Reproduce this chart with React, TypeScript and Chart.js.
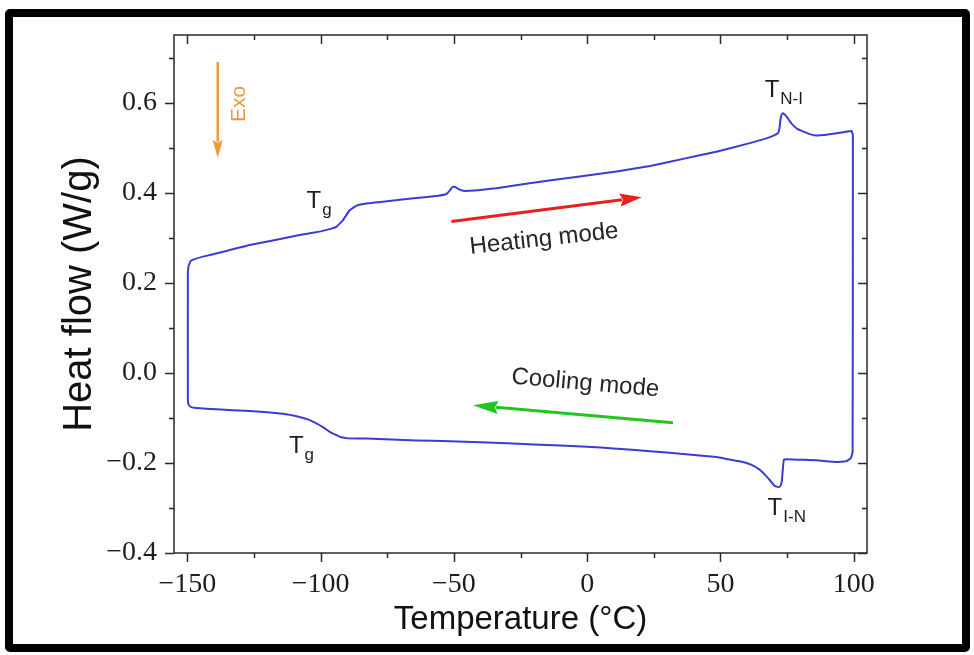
import React, { useEffect, useRef } from 'react';
import { Chart, registerables } from 'chart.js';

Chart.register(...registerables);

// ---- Data ----
// Heating run (upper trace), temperature in °C and heat flow in W/g
const heatingT = [-149.6, -148.8, -147.5, -144.1, -135, -126.6, -117, -107.9, -100, -96.6, -94.1, -91.6, -89.1, -86.5, -84, -76.6, -64.1, -56, -52.8, -51.5, -50.6, -49.7, -48.5, -46.5, -44, -40, -34.1, -21.6, -2.8, 11.0, 23.6, 36.0, 48.5, 61.0, 67, 69.7, 71.6, 72.2, 72.6, 73.3, 74.0, 74.8, 76, 77.2, 79, 81.0, 83.5, 86.0, 89, 92.3, 96, 99.2, 99.7];
const heatingHF = [0.236, 0.248, 0.252, 0.258, 0.271, 0.284, 0.295, 0.306, 0.314, 0.319, 0.324, 0.339, 0.361, 0.371, 0.375, 0.380, 0.388, 0.393, 0.397, 0.405, 0.412, 0.413, 0.409, 0.404, 0.404, 0.406, 0.410, 0.421, 0.436, 0.447, 0.459, 0.475, 0.491, 0.510, 0.520, 0.526, 0.532, 0.545, 0.565, 0.576, 0.574, 0.569, 0.559, 0.550, 0.541, 0.536, 0.530, 0.527, 0.528, 0.531, 0.534, 0.537, 0.528];
// Cooling run (lower trace)
const coolingT = [99.6, 99.0, 97.3, 93.5, 86.0, 80, 74.8, 73.8, 73.4, 73.1, 72.6, 72.0, 70.4, 68.5, 66.5, 64.7, 61.5, 58.5, 53, 48.5, 36.0, 23.6, 10, 0, -20, -40, -51.6, -64.1, -82.8, -90, -92.2, -94.5, -96.6, -99, -101.6, -104.5, -107.9, -114.1, -126.6, -139.1, -146.5, -148.6, -149.5, -149.8, -149.8];
const coolingHF = [-0.175, -0.189, -0.196, -0.198, -0.194, -0.193, -0.192, -0.193, -0.215, -0.238, -0.250, -0.254, -0.251, -0.238, -0.225, -0.215, -0.204, -0.198, -0.192, -0.187, -0.180, -0.174, -0.168, -0.164, -0.159, -0.154, -0.152, -0.150, -0.146, -0.145, -0.143, -0.137, -0.131, -0.121, -0.112, -0.104, -0.098, -0.091, -0.085, -0.081, -0.078, -0.076, -0.071, -0.060, 0.220];

// Axis ticks
const xMajorTicks = [-150, -100, -50, 0, 50, 100];
const xMinorTicks = [-125, -75, -25, 25, 75];
const yMajorTicks = [-0.4, -0.2, 0.0, 0.2, 0.4, 0.6];
const yMinorTicks = [-0.3, -0.1, 0.1, 0.3, 0.5, 0.7];
const xRange = [-155, 105];
const yRange = [-0.4, 0.75];
const xTitle = 'Temperature (°C)';
const yTitle = 'Heat flow (W/g)';

// Annotations (data units)
const transitionLabels = [
  { main: 'T', sub: 'g', x: -105.3, y: 0.366 },
  { main: 'T', sub: 'N-I', x: 66.6, y: 0.613 },
  { main: 'T', sub: 'g', x: -111.9, y: -0.179 },
  { main: 'T', sub: 'I-N', x: 67.7, y: -0.316 },
];
const arrowNotes = [
  { from: [-138.6, 0.690], to: [-138.6, 0.477], color: '#ee9a3c', width: 2.5, head: 18, half: 5 },
  { from: [-50.9, 0.336], to: [20.5, 0.390], color: '#e8201e', width: 3, head: 22, half: 6.5 },
  { from: [32.2, -0.111], to: [-42.8, -0.072], color: '#22c41e', width: 3, head: 25, half: 6.5 },
];
const modeNotes = [
  { text: 'Heating mode', x: -15.9, y: 0.282, angle: -6.3 },
  { text: 'Cooling mode', x: -0.9, y: -0.038, angle: 5 },
];
const exoNote = { text: 'Exo', x: -128.5, y: 0.597 };

const minus = (s: string) => s.replace('-', '\u2212');

const decorPlugin = {
  id: 'decor',
  afterDraw(chart: any) {
    const ctx = chart.ctx as CanvasRenderingContext2D;
    const xs = chart.scales.x;
    const ys = chart.scales.y;
    const a = chart.chartArea;
    ctx.save();
    // frame
    ctx.strokeStyle = '#2a2a2a';
    ctx.lineWidth = 1.5;
    ctx.strokeRect(a.left, a.top, a.right - a.left, a.bottom - a.top);
    // ticks
    const major = 9, minor = 5;
    ctx.beginPath();
    const xt = (v: number, len: number) => {
      const p = Math.round(xs.getPixelForValue(v)) + 0.5;
      ctx.moveTo(p, a.bottom); ctx.lineTo(p, a.bottom + len);
      ctx.moveTo(p, a.top); ctx.lineTo(p, a.top + len);
    };
    const yt = (v: number, len: number) => {
      const p = Math.round(ys.getPixelForValue(v)) + 0.5;
      ctx.moveTo(a.left - len, p); ctx.lineTo(a.left, p);
      ctx.moveTo(a.right - len, p); ctx.lineTo(a.right, p);
    };
    xMajorTicks.forEach(v => xt(v, major));
    xMinorTicks.forEach(v => xt(v, minor));
    yMajorTicks.forEach(v => yt(v, major));
    yMinorTicks.forEach(v => yt(v, minor));
    ctx.stroke();

    // arrows
    arrowNotes.forEach(n => {
      const x1 = xs.getPixelForValue(n.from[0]);
      const y1 = ys.getPixelForValue(n.from[1]);
      const x2 = xs.getPixelForValue(n.to[0]);
      const y2 = ys.getPixelForValue(n.to[1]);
      const ang = Math.atan2(y2 - y1, x2 - x1);
      const bx = x2 - n.head * Math.cos(ang);
      const by = y2 - n.head * Math.sin(ang);
      ctx.strokeStyle = n.color;
      ctx.fillStyle = n.color;
      ctx.lineWidth = n.width;
      ctx.lineCap = 'butt';
      ctx.beginPath();
      ctx.moveTo(x1, y1);
      ctx.lineTo(bx + 2 * Math.cos(ang), by + 2 * Math.sin(ang));
      ctx.stroke();
      ctx.beginPath();
      ctx.moveTo(x2, y2);
      ctx.lineTo(bx - n.half * Math.sin(ang), by + n.half * Math.cos(ang));
      ctx.lineTo(bx + 3 * Math.cos(ang), by + 3 * Math.sin(ang));
      ctx.lineTo(bx + n.half * Math.sin(ang), by - n.half * Math.cos(ang));
      ctx.closePath();
      ctx.fill();
    });

    // transition labels
    ctx.fillStyle = '#1e1e1e';
    ctx.textBaseline = 'alphabetic';
    ctx.textAlign = 'left';
    transitionLabels.forEach(l => {
      const px = xs.getPixelForValue(l.x);
      const py = ys.getPixelForValue(l.y);
      ctx.font = '24px "Liberation Sans", Arial, sans-serif';
      ctx.fillText(l.main, px, py);
      const w = ctx.measureText(l.main).width;
      ctx.font = '17px "Liberation Sans", Arial, sans-serif';
      ctx.fillText(l.sub, px + w + 1, py + 7);
    });

    // mode texts
    modeNotes.forEach(m => {
      const px = xs.getPixelForValue(m.x);
      const py = ys.getPixelForValue(m.y);
      ctx.save();
      ctx.translate(px, py);
      ctx.rotate((m.angle * Math.PI) / 180);
      ctx.font = '24px "Liberation Sans", Arial, sans-serif';
      ctx.textAlign = 'center';
      ctx.fillStyle = '#262626';
      ctx.fillText(m.text, 0, 0);
      ctx.restore();
    });

    // Exo
    {
      const px = xs.getPixelForValue(exoNote.x);
      const py = ys.getPixelForValue(exoNote.y);
      ctx.save();
      ctx.translate(px, py);
      ctx.rotate(-Math.PI / 2);
      ctx.font = '21px "Liberation Sans", Arial, sans-serif';
      ctx.textAlign = 'center';
      ctx.fillStyle = '#ee9a3c';
      ctx.fillText(exoNote.text, 0, 0);
      ctx.restore();
    }
    ctx.restore();
  },
};

export default function App() {
  const ref = useRef<HTMLCanvasElement | null>(null);
  useEffect(() => {
    if (!ref.current) return;
    const pts: { x: number; y: number }[] = [];
    heatingT.forEach((t, i) => pts.push({ x: t, y: heatingHF[i] }));
    coolingT.forEach((t, i) => pts.push({ x: t, y: coolingHF[i] }));
    pts.push({ x: heatingT[0], y: heatingHF[0] });

    const tickFont = { family: '"Liberation Serif", "Times New Roman", serif', size: 28 };
    const titleFontFamily = '"Liberation Sans", Arial, sans-serif';

    const chart = new Chart(ref.current, {
      type: 'scatter',
      data: {
        datasets: [
          {
            data: pts,
            showLine: true,
            borderColor: '#3b3bd4',
            borderWidth: 2,
            pointRadius: 0,
            tension: 0.1,
            fill: false,
          },
        ],
      },
      options: {
        responsive: false,
        animation: false,
        layout: { padding: { top: 35, right: 107, left: 0, bottom: 0 } },
        plugins: { legend: { display: false }, tooltip: { enabled: false } },
        scales: {
          x: {
            type: 'linear',
            min: xRange[0],
            max: xRange[1],
            afterFit: (s: any) => { s.height = 102; },
            afterBuildTicks: (s: any) => { s.ticks = xMajorTicks.map(v => ({ value: v })); },
            grid: { display: false, drawTicks: true, tickLength: 9 },
            border: { display: false },
            ticks: {
              autoSkip: false,
              maxRotation: 0,
              padding: 6,
              font: tickFont,
              color: '#1e1e1e',
              callback: (v: any) => minus(String(v)),
            },
            title: {
              display: true,
              text: xTitle,
              font: { family: titleFontFamily, size: 33 },
              color: '#111',
              padding: { top: 0, bottom: 15 },
            },
          },
          y: {
            type: 'linear',
            min: yRange[0],
            max: yRange[1],
            afterFit: (s: any) => { s.width = 174; },
            afterBuildTicks: (s: any) => { s.ticks = yMajorTicks.map(v => ({ value: v })); },
            grid: { display: false, drawTicks: true, tickLength: 9 },
            border: { display: false },
            ticks: {
              autoSkip: false,
              padding: 8,
              font: tickFont,
              color: '#1e1e1e',
              callback: (v: any) => minus(Number(v).toFixed(1)),
            },
            title: {
              display: true,
              text: yTitle,
              font: { family: titleFontFamily, size: 40 },
              color: '#111',
              padding: { top: 56, bottom: 0 },
            },
          },
        },
      },
      plugins: [decorPlugin],
    } as any);
    return () => chart.destroy();
  }, []);

  return (
    <div style={{ position: 'fixed', left: 0, top: 0, width: 974, height: 655, background: '#fff' }}>
      <canvas ref={ref} width={974} height={655} style={{ position: 'absolute', left: 0, top: 0, width: 974, height: 655 }} />
      <div
        style={{
          position: 'absolute',
          left: 5,
          top: 9,
          width: 965,
          height: 643,
          boxSizing: 'border-box',
          border: '8px solid #000',
          borderRadius: 5,
          pointerEvents: 'none',
        }}
      />
    </div>
  );
}
